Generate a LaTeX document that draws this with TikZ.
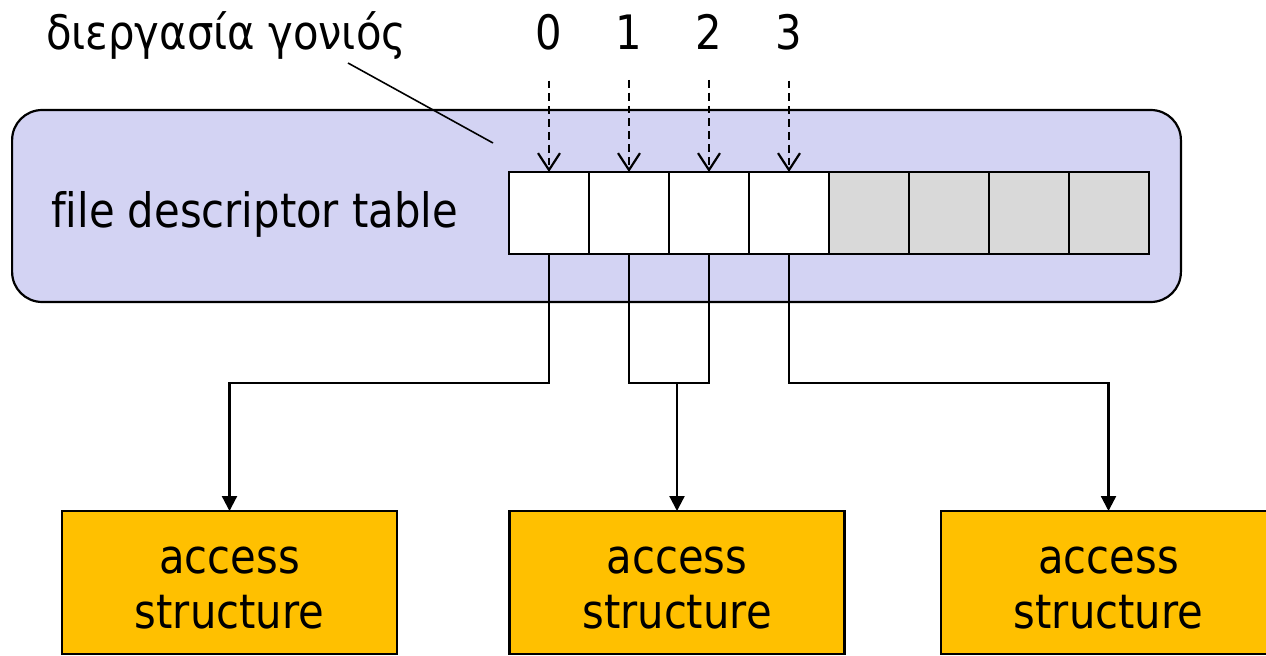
\documentclass[tikz,border=0pt]{standalone}
\usepackage{fontspec}
\setmainfont{DejaVu Sans}[FakeStretch=0.88, Ligatures=NoCommon]
\usetikzlibrary{arrows.meta}
\definecolor{procfill}{RGB}{211,211,243}
\definecolor{slotgray}{RGB}{217,217,217}
\definecolor{accfill}{RGB}{255,192,0}
\begin{document}
\begin{tikzpicture}[x=0.02cm, y=-0.02cm, line width=1.25pt,
  txt/.style={font=\fontsize{27}{31.7}\selectfont, inner sep=0pt},
  slot/.style={draw, fill=white, minimum width=1.6cm, minimum height=1.64cm,
    inner sep=0pt, outer sep=0pt},
  freeslot/.style={slot, fill=slotgray},
  accbox/.style={draw, fill=accfill, minimum width=6.7cm, minimum height=2.86cm,
    inner sep=0pt, outer sep=0pt},
  idxarrow/.style={dash pattern=on 4.5pt off 2.8pt, shorten <=16.4pt,
    -{Straight Barb[length=9.6pt, width=12.5pt, line width=1.25pt]}},
  link/.style={-{Triangle[length=8.5pt, width=8.5pt]}}
]
\useasboundingbox (0,0) rectangle (1266,655);

% process box holding the descriptor table
\node[draw, fill=procfill, rounded corners=0.6cm, minimum width=23.38cm,
  minimum height=3.84cm, inner sep=0pt, outer sep=0pt] (proc) at (596.5,206) {};
\node[txt, anchor=base west] (tablelbl) at (50,227) {file descriptor table};

% table slots: four in use, four free
\foreach \i in {0,...,3}
  \node[slot] (c\i) at (549+80*\i,213) {};
\foreach \i in {4,...,7}
  \node[freeslot] (c\i) at (549+80*\i,213) {};

% descriptor numbers
\foreach \i in {0,...,3} {
  \node[txt, anchor=base] (n\i) at (549+80*\i,50) {\i};
  \draw[idxarrow] (n\i.south) -- (c\i.north);
}

% label of the process
\node[txt, anchor=base west] (parent) at (45,50) {διεργασία γονιός};
\coordinate (ptrA) at (348,63);
\coordinate (ptrB) at (493,143);
\draw[line width=0.9pt] (ptrA) -- (ptrB);

% access structures
\node[accbox] (a1) at (229.5,582.5) {};
\node[accbox] (a2) at (677,582.5) {};
\node[accbox] (a3) at (1108.5,582.5) {};
\node[txt, align=center] (t1) at (229.5,588) {access\\structure};
\node[txt, align=center] (t2) at (677,588) {access\\structure};
\node[txt, align=center] (t3) at (1108.5,588) {access\\structure};

% links from slots to access structures
\coordinate (k0) at (229.5,383);
\coordinate (k1) at (677,383);
\coordinate (k3) at (1108.5,383);
\draw[link] (c0.south) |- (k0) -- (a1.north);
\draw (c1.south) |- (k1) -| (c2.south);
\draw[link] (k1) -- (a2.north);
\draw[link] (c3.south) |- (k3) -- (a3.north);
\end{tikzpicture}
\end{document}
